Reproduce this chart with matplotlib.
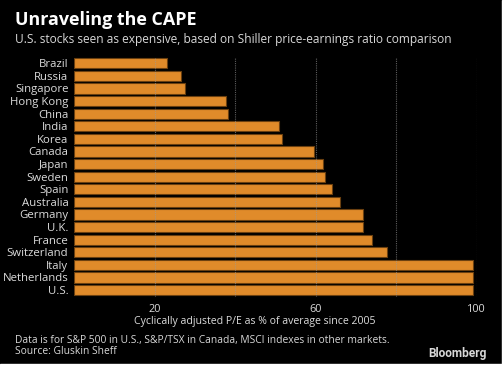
import matplotlib
matplotlib.use("Agg")
import matplotlib.pyplot as plt

# dados
paises = ["Brazil", "Russia", "Singapore", "Hong Kong", "China", "India", "Korea",
          "Canada", "Japan", "Sweden", "Spain", "Australia", "Germany", "U.K.",
          "France", "Switzerland", "Italy", "Netherlands", "U.S."]
valores = [23.2, 26.6, 27.7, 37.7, 38.2, 50.9, 51.8, 59.6, 61.9, 62.3, 64.2,
           66.1, 71.9, 71.9, 74.1, 77.8, 99.2, 99.2, 99.2]
ticks_x = [20, 60, 100]
grade_x = [20, 40, 60, 80, 100]

plt.rcParams["font.family"] = ["Open Sans", "DejaVu Sans"]

fig = plt.figure(figsize=(5.04, 3.66), dpi=100, facecolor="black")
ax = fig.add_axes([74 / 504, 1 - 297 / 366, (476.5 - 74) / 504, 240 / 366])
ax.set_facecolor("black")

y = list(range(len(paises)))
ax.barh(y, valores, height=0.8, color="#e08b2a", edgecolor="#6b4010",
        linewidth=0.8, zorder=2)

for g in grade_x:
    ax.axvline(g, color="#9a9a9a", linestyle=(0, (1, 1)), linewidth=0.8,
               alpha=0.6, zorder=3)

ax.set_xlim(0, 100)
ax.set_ylim(len(paises) - 0.45, -0.5)
ax.set_yticks(y)
ax.set_yticklabels(paises, color="#dcdcdc", fontsize=8.2)
ax.set_xticks(ticks_x)
ax.set_xticklabels([str(t) for t in ticks_x], color="#dcdcdc", fontsize=7.8)
ax.tick_params(length=0, pad=4)
ax.tick_params(axis="x", pad=5)
for s in ax.spines.values():
    s.set_visible(False)

ax.set_xlabel("Cyclically adjusted P/E as % of average since 2005",
              color="#dcdcdc", fontsize=7.6)
ax.xaxis.set_label_coords((255 - 74) / 402.5, -0.104)
ax.xaxis.label.set_va("center")

fig.text(15 / 504, 1 - 20 / 366, "Unraveling the CAPE", color="white",
         fontsize=12.9, fontweight="bold", va="center")
fig.text(15 / 504, 1 - 40 / 366,
         "U.S. stocks seen as expensive, based on Shiller price-earnings ratio comparison",
         color="#d8d8d8", fontsize=8.55, va="center")
fig.text(15 / 504, 1 - 340 / 366,
         "Data is for S&P 500 in U.S., S&P/TSX in Canada, MSCI indexes in other markets.",
         color="#d8d8d8", fontsize=7.4, va="center")
fig.text(15 / 504, 1 - 352 / 366, "Source: Gluskin Sheff", color="#d8d8d8",
         fontsize=7.4, va="center")
fig.text(487 / 504, 1 - 353 / 366, "Bloomberg", color="#d8d8d8", fontsize=8.6,
         fontweight="bold", va="center", ha="right", family="Roboto")

# borda branca
fig.patches.append(plt.Rectangle((1 - 2.5 / 504, 0), 2.5 / 504, 1,
                                 transform=fig.transFigure, color="white"))
fig.patches.append(plt.Rectangle((0, 0), 1, 2.5 / 366,
                                 transform=fig.transFigure, color="white"))

plt.savefig("out.png", dpi=100, facecolor="black")
